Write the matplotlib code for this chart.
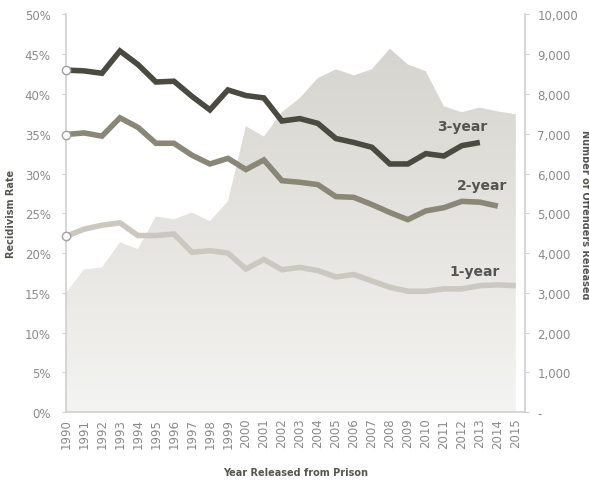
"""
Recidivism rates (1-, 2-, 3-year) by release year, with number of offenders
released as a shaded area on a secondary axis.
"""
import numpy as np
import matplotlib.pyplot as plt
from matplotlib.colors import LinearSegmentedColormap

years = list(range(1990, 2016))

released = [3000, 3590, 3640, 4270, 4100, 4920, 4850, 5020, 4800, 5300,
            7190, 6930, 7540, 7900, 8400, 8620, 8470, 8620, 9140, 8740,
            8570, 7690, 7540, 7660, 7560, 7490]

rate_3yr = [43.0, 42.9, 42.6, 45.4, 43.7, 41.5, 41.6, 39.7, 38.0, 40.5,
            39.8, 39.5, 36.6, 36.9, 36.3, 34.4, 33.9, 33.3, 31.2, 31.2,
            32.5, 32.2, 33.5, 33.9]
rate_2yr = [34.9, 35.1, 34.7, 37.0, 35.8, 33.8, 33.8, 32.3, 31.2, 31.9,
            30.5, 31.7, 29.1, 28.9, 28.6, 27.1, 27.0, 26.1, 25.1, 24.2,
            25.3, 25.7, 26.5, 26.4, 25.9]
rate_1yr = [22.1, 23.0, 23.5, 23.8, 22.2, 22.2, 22.4, 20.1, 20.3, 20.0,
            18.0, 19.2, 17.9, 18.2, 17.8, 17.0, 17.3, 16.5, 15.7, 15.2,
            15.2, 15.5, 15.5, 15.9, 16.0, 15.9]

series = [
    ("3-year", rate_3yr, "#4b4a40"),
    ("2-year", rate_2yr, "#8b8777"),
    ("1-year", rate_1yr, "#cbc9bf"),
]

TICK_C = "#8a8a8a"
LABEL_C = "#555550"

fig = plt.figure(figsize=(5.89, 4.81), dpi=100)
ax = fig.add_axes([0.112, 0.141, 0.779, 0.827])
ax2 = ax.twinx()

# shaded area (number released) on the secondary axis, with a vertical gradient
ax2.set_ylim(0, 10000)
ax2.set_xlim(1990, 2015.5)
poly = ax2.fill_between(years, released, 0, color="none", lw=0)
cmap = LinearSegmentedColormap.from_list("g", ["#f4f4f2", "#d6d4ce"])
grad = np.linspace(0, 1, 256).reshape(-1, 1)
img = ax2.imshow(grad, cmap=cmap, origin="lower", aspect="auto",
                 extent=[1990, 2015, 0, 9200], zorder=0)
img.set_clip_path(poly.get_paths()[0], transform=ax2.transData)

# rate lines on the primary axis, drawn above the area
ax.set_zorder(ax2.get_zorder() + 1)
ax.patch.set_visible(False)
for name, vals, col in series:
    ax.plot(years[:len(vals)], vals, color=col, lw=4, solid_joinstyle="miter",
            solid_capstyle="butt", zorder=3)
    ax.plot(years[0], vals[0], "o", ms=6, mfc="white", mec="#a0a0a0",
            mew=1, zorder=4, clip_on=False)

ax.text(2012.0, 36.0, "3-year", ha="center", va="center", fontsize=10,
        fontweight="bold", color=LABEL_C)
ax.text(2013.1, 28.6, "2-year", ha="center", va="center", fontsize=10,
        fontweight="bold", color=LABEL_C)
ax.text(2012.7, 17.8, "1-year", ha="center", va="center", fontsize=10,
        fontweight="bold", color=LABEL_C)

ax.set_xlim(1990, 2015.5)
ax.set_ylim(0, 50)
ax.set_yticks(range(0, 51, 5))
ax.set_yticklabels([f"{v}%" for v in range(0, 51, 5)])
ax.set_xticks(years)
ax.set_xticklabels([str(y) for y in years], rotation=90)

ax2.set_yticks(range(0, 10001, 1000))
ax2.set_yticklabels(["-"] + [f"{v:,}" for v in range(1000, 10001, 1000)])

for a in (ax, ax2):
    for s in a.spines.values():
        s.set_visible(False)
ax.spines["left"].set_visible(True)
ax.spines["bottom"].set_visible(True)
ax2.spines["right"].set_visible(True)
for s in (ax.spines["left"], ax.spines["bottom"], ax2.spines["right"]):
    s.set_color("#d0d0d0")
    s.set_linewidth(1.2)

ax.tick_params(axis="y", colors="#d0d0d0", labelcolor=TICK_C, labelsize=8.5,
               length=3, pad=8)
ax.tick_params(axis="x", length=0, labelcolor=TICK_C, labelsize=8.5, pad=4)
ax2.tick_params(axis="y", colors="#d0d0d0", labelcolor=TICK_C, labelsize=8.5,
                length=3, pad=6)

ax.set_ylabel("Recidivism Rate", fontsize=7, fontweight="bold", color=LABEL_C,
              labelpad=6)
ax2.set_ylabel("Number of Offenders Released", fontsize=7, fontweight="bold",
               color=LABEL_C, rotation=270, labelpad=4)
ax2.yaxis.set_label_coords(1.142, 0.5)
ax.set_xlabel("Year Released from Prison", fontsize=7, fontweight="bold",
              color=LABEL_C, labelpad=14)

fig.savefig("out.png", dpi=100)
